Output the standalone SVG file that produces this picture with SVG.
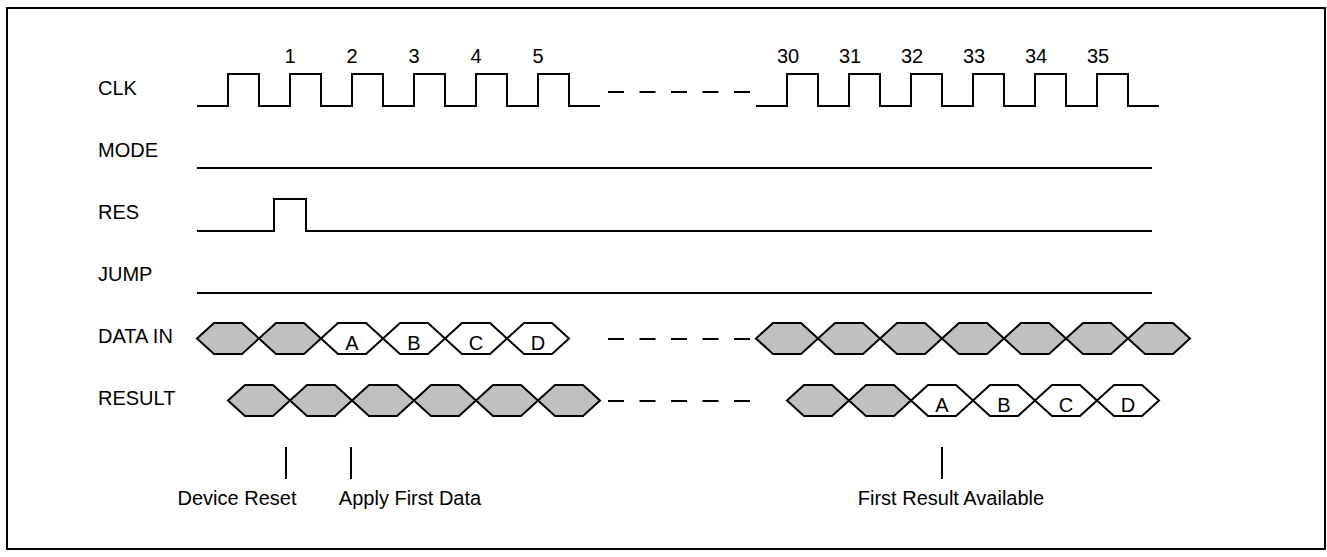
<svg xmlns="http://www.w3.org/2000/svg" width="1327" height="557" viewBox="0 0 1327 557">
<style>
text{font-family:"Liberation Sans",Arial,sans-serif;font-size:20px;fill:#000}
.sig{fill:none;stroke:#000;stroke-width:2}
.dash{fill:none;stroke:#000;stroke-width:2;stroke-dasharray:16 15.5}
.hg{fill:#c0c0c0;stroke:#000;stroke-width:2;stroke-linejoin:miter}
.hw{fill:#fff;stroke:#000;stroke-width:2}
.mid{text-anchor:middle}
</style>
<defs>
<polygon id="hex" points="0,0 17,-15.5 45,-15.5 62,0 45,15.5 17,15.5"/>
</defs>
<rect x="7" y="8" width="1318" height="541" fill="#fff" stroke="#000" stroke-width="2"/>
<g id="labels">
<text x="98" y="95">CLK</text>
<text x="98" y="157">MODE</text>
<text x="98" y="219">RES</text>
<text x="98" y="281">JUMP</text>
<text x="98" y="343">DATA IN</text>
<text x="98" y="405">RESULT</text>
</g>
<g id="clk">
<path class="sig" d="M197,106 H228 V74 H259 V106 H290 V74 H321 V106 H352 V74 H383 V106 H414 V74 H445 V106 H476 V74 H507 V106 H538 V74 H569 V106 H600"/>
<path class="dash" d="M608,92 H750"/>
<path class="sig" d="M756,106 H787 V74 H818 V106 H849 V74 H880 V106 H911 V74 H942 V106 H973 V74 H1004 V106 H1035 V74 H1066 V106 H1097 V74 H1128 V106 H1159"/>
<g class="mid">
<text x="290" y="63">1</text><text x="352" y="63">2</text><text x="414" y="63">3</text><text x="476" y="63">4</text><text x="538" y="63">5</text>
<text x="788" y="63">30</text><text x="850" y="63">31</text><text x="912" y="63">32</text><text x="974" y="63">33</text><text x="1036" y="63">34</text><text x="1098" y="63">35</text>
</g>
</g>
<g id="mode"><path class="sig" d="M197,168 H1152"/></g>
<g id="res"><path class="sig" d="M197,231 H274 V199 H306 V231 H1152"/></g>
<g id="jump"><path class="sig" d="M197,293 H1152"/></g>
<g id="data-in">
<use href="#hex" class="hg" x="197" y="338.5"/>
<use href="#hex" class="hg" x="259" y="338.5"/>
<use href="#hex" class="hw" x="321" y="338.5"/>
<use href="#hex" class="hw" x="383" y="338.5"/>
<use href="#hex" class="hw" x="445" y="338.5"/>
<use href="#hex" class="hw" x="507" y="338.5"/>
<g class="mid"><text x="352" y="350">A</text><text x="414" y="350">B</text><text x="476" y="350">C</text><text x="538" y="350">D</text></g>
<path class="dash" d="M608,339 H750"/>
<use href="#hex" class="hg" x="756" y="338.5"/>
<use href="#hex" class="hg" x="818" y="338.5"/>
<use href="#hex" class="hg" x="880" y="338.5"/>
<use href="#hex" class="hg" x="942" y="338.5"/>
<use href="#hex" class="hg" x="1004" y="338.5"/>
<use href="#hex" class="hg" x="1066" y="338.5"/>
<use href="#hex" class="hg" x="1128" y="338.5"/>
</g>
<g id="result">
<use href="#hex" class="hg" x="228" y="400.5"/>
<use href="#hex" class="hg" x="290" y="400.5"/>
<use href="#hex" class="hg" x="352" y="400.5"/>
<use href="#hex" class="hg" x="414" y="400.5"/>
<use href="#hex" class="hg" x="476" y="400.5"/>
<use href="#hex" class="hg" x="538" y="400.5"/>
<path class="dash" d="M608,401 H750"/>
<use href="#hex" class="hg" x="787" y="400.5"/>
<use href="#hex" class="hg" x="849" y="400.5"/>
<use href="#hex" class="hw" x="911" y="400.5"/>
<use href="#hex" class="hw" x="973" y="400.5"/>
<use href="#hex" class="hw" x="1035" y="400.5"/>
<use href="#hex" class="hw" x="1097" y="400.5"/>
<g class="mid"><text x="942" y="412">A</text><text x="1004" y="412">B</text><text x="1066" y="412">C</text><text x="1128" y="412">D</text></g>
</g>
<g id="connectors">
<path class="sig" d="M286,447 V479 M351,447 V479 M942,447 V479"/>
</g>
<g id="annotations" class="mid">
<text x="237" y="505">Device Reset</text>
<text x="410" y="505">Apply First Data</text>
<text x="951" y="505">First Result Available</text>
</g>
</svg>
